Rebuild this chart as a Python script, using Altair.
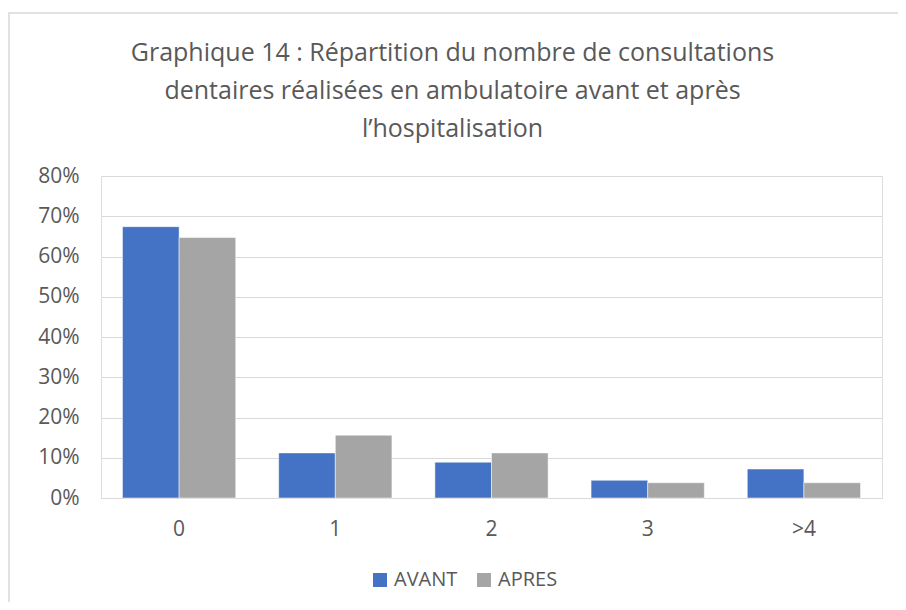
import altair as alt
import pandas as pd

categories = ["0", "1", "2", "3", ">4"]
avant = [0.674, 0.112, 0.089, 0.044, 0.072]
apres = [0.647, 0.156, 0.112, 0.038, 0.038]
series = ["AVANT", "APRES"]
colors = ["#4472C4", "#A5A5A5"]
y_ticks = [0, 0.1, 0.2, 0.3, 0.4, 0.5, 0.6, 0.7, 0.8]
title_lines = [
    "Graphique 14 : Répartition du nombre de consultations",
    "dentaires réalisées en ambulatoire avant et après",
    "l’hospitalisation",
]

rows = []
for c, a, p in zip(categories, avant, apres):
    rows.append({"cat": c, "serie": "AVANT", "val": a})
    rows.append({"cat": c, "serie": "APRES", "val": p})
df = pd.DataFrame(rows)

FONT = "Open Sans"
GREY = "#595959"
FS = 21

bars = alt.Chart(df).mark_bar(stroke="white", strokeWidth=0.5).encode(
    x=alt.X("cat:N", sort=categories, title=None,
            scale=alt.Scale(paddingInner=0.275, paddingOuter=0.1375),
            axis=alt.Axis(labelAngle=0, ticks=False, domainColor="#d9d9d9",
                          labelPadding=20, labelFontSize=FS, labelColor=GREY,
                          labelFont=FONT, grid=False)),
    xOffset=alt.XOffset("serie:N", sort=series,
                        scale=alt.Scale(paddingInner=0, paddingOuter=0)),
    y=alt.Y("val:Q", title=None,
            scale=alt.Scale(domain=[0, 0.8], nice=False),
            axis=alt.Axis(values=y_ticks, format=".0%", domain=False, ticks=False,
                          labelPadding=22, labelFontSize=FS, labelColor=GREY,
                          labelFont=FONT, gridColor="#d9d9d9", gridWidth=1)),
    color=alt.Color("serie:N", sort=series,
                    scale=alt.Scale(domain=series, range=colors),
                    legend=alt.Legend(title=None, orient="none", direction="horizontal",
                                      legendX=269, legendY=394,
                                      symbolType="square", symbolSize=196,
                                      symbolStrokeWidth=0, labelFontSize=20,
                                      labelColor=GREY, labelFont=FONT,
                                      columnPadding=16, labelOffset=4)),
)

frame = alt.Chart(pd.DataFrame({"k": [0]})).mark_rect(
    fill=None, stroke="#d9d9d9", strokeWidth=1.5
).encode(
    x=alt.value(-92), x2=alt.value(820), y=alt.value(-163), y2=alt.value(440)
)

chart = alt.layer(frame, bars).properties(
    width=781,
    height=322,
    autosize=alt.AutoSizeParams(type="none"),
    padding={"left": 93, "top": 168, "right": 16, "bottom": 104},
    title=alt.TitleParams(title_lines, anchor="middle", frame="group",
                          fontSize=25, font=FONT, fontWeight="normal",
                          color=GREY, dx=-39, dy=130, offset=0, baseline="top",
                          lineHeight=38),
).configure_view(stroke=None).configure(background="white")

chart.save("out.html", embed_options={"renderer": "svg", "actions": False})
